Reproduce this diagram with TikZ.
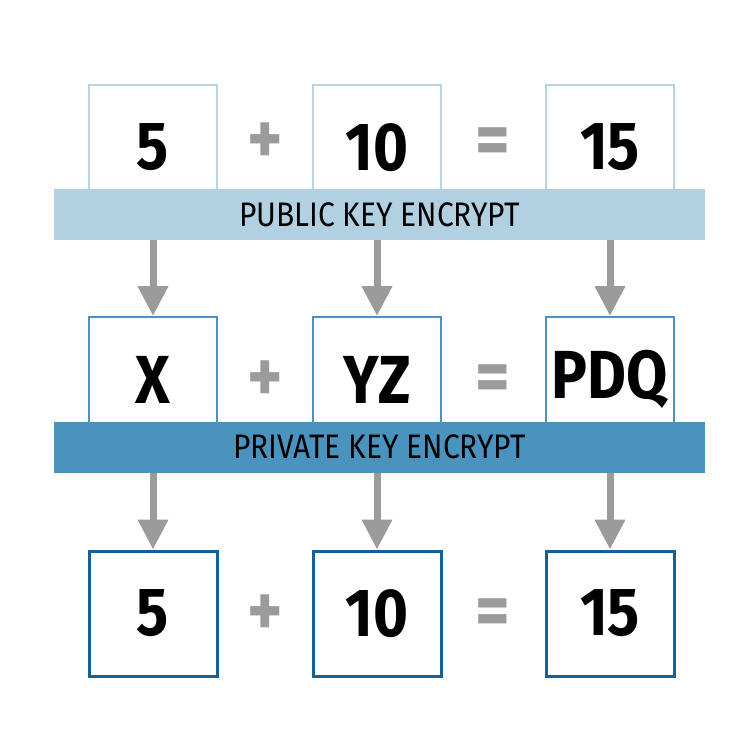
\documentclass[tikz,border=0pt]{standalone}
\usepackage{fontspec}
\setmainfont{Fira Sans}
\newfontfamily\boxfont[FakeStretch=0.88]{Fira Sans}
\newfontfamily\bandfont[FakeStretch=0.88]{Fira Sans}
\usetikzlibrary{arrows.meta}
\definecolor{bandlight}{RGB}{177,208,226}
\definecolor{banddark}{RGB}{74,147,190}
\definecolor{edgelight}{RGB}{181,212,230}
\definecolor{edgemid}{RGB}{74,147,190}
\definecolor{edgedark}{RGB}{16,97,158}
\definecolor{arrowgray}{RGB}{155,155,155}
\tikzset{
 numbox/.style={draw,fill=white,line width=2pt,minimum width=128pt,minimum height=125pt,inner sep=0,font=\boxfont\bfseries\fontsize{68}{68}\selectfont},
 band/.style={minimum width=651pt,minimum height=51pt,inner sep=0,font=\bandfont\fontsize{34}{34}\selectfont},
 operator/.style={text=arrowgray,inner sep=0,font=\boxfont\bfseries\fontsize{76}{76}\selectfont},
 downarrow/.style={draw=arrowgray,line width=7pt,-{Triangle[length=30pt,width=29pt]}}
}
\begin{document}
\begin{tikzpicture}[x=1pt,y=-1pt]
\useasboundingbox (0,0) rectangle (743,743);
% public key row
\node[numbox,draw=edgelight] (a1) at (153,147.5) {5};
\node[numbox,draw=edgelight] (a2) at (377,147.5) {10};
\node[numbox,draw=edgelight] (a3) at (610,147.5) {15};
\node[operator] (aplus) at (265,144) {+};
\node[operator] (aeq) at (493,147) {=};
\node[band,fill=bandlight] (pub) at (379.5,214.5) {PUBLIC KEY ENCRYPT};
% private key row
\node[numbox,draw=edgemid] (b1) at (153,379.5) {X};
\node[numbox,draw=edgemid] (b2) at (377,379.5) {YZ};
\node[numbox,draw=edgemid] (b3) at (610,379.5) {PDQ};
\node[operator] (bplus) at (265,382) {+};
\node[operator] (beq) at (493,384) {=};
\node[band,fill=banddark] (priv) at (379.5,447) {PRIVATE KEY ENCRYPT};
% result row
\node[numbox,draw=edgedark,line width=3pt] (c1) at (153,613.5) {5};
\node[numbox,draw=edgedark,line width=3pt] (c2) at (377,613.5) {10};
\node[numbox,draw=edgedark,line width=3pt] (c3) at (610,613.5) {15};
\node[operator] (cplus) at (265,616) {+};
\node[operator] (ceq) at (493,618) {=};
% arrows
\draw[downarrow] (pub.south -| b1) -- (b1.north);
\draw[downarrow] (pub.south -| b2) -- (b2.north);
\draw[downarrow] (pub.south -| b3) -- (b3.north);
\draw[downarrow] (priv.south -| c1) -- (c1.north);
\draw[downarrow] (priv.south -| c2) -- (c2.north);
\draw[downarrow] (priv.south -| c3) -- (c3.north);
\end{tikzpicture}
\end{document}
